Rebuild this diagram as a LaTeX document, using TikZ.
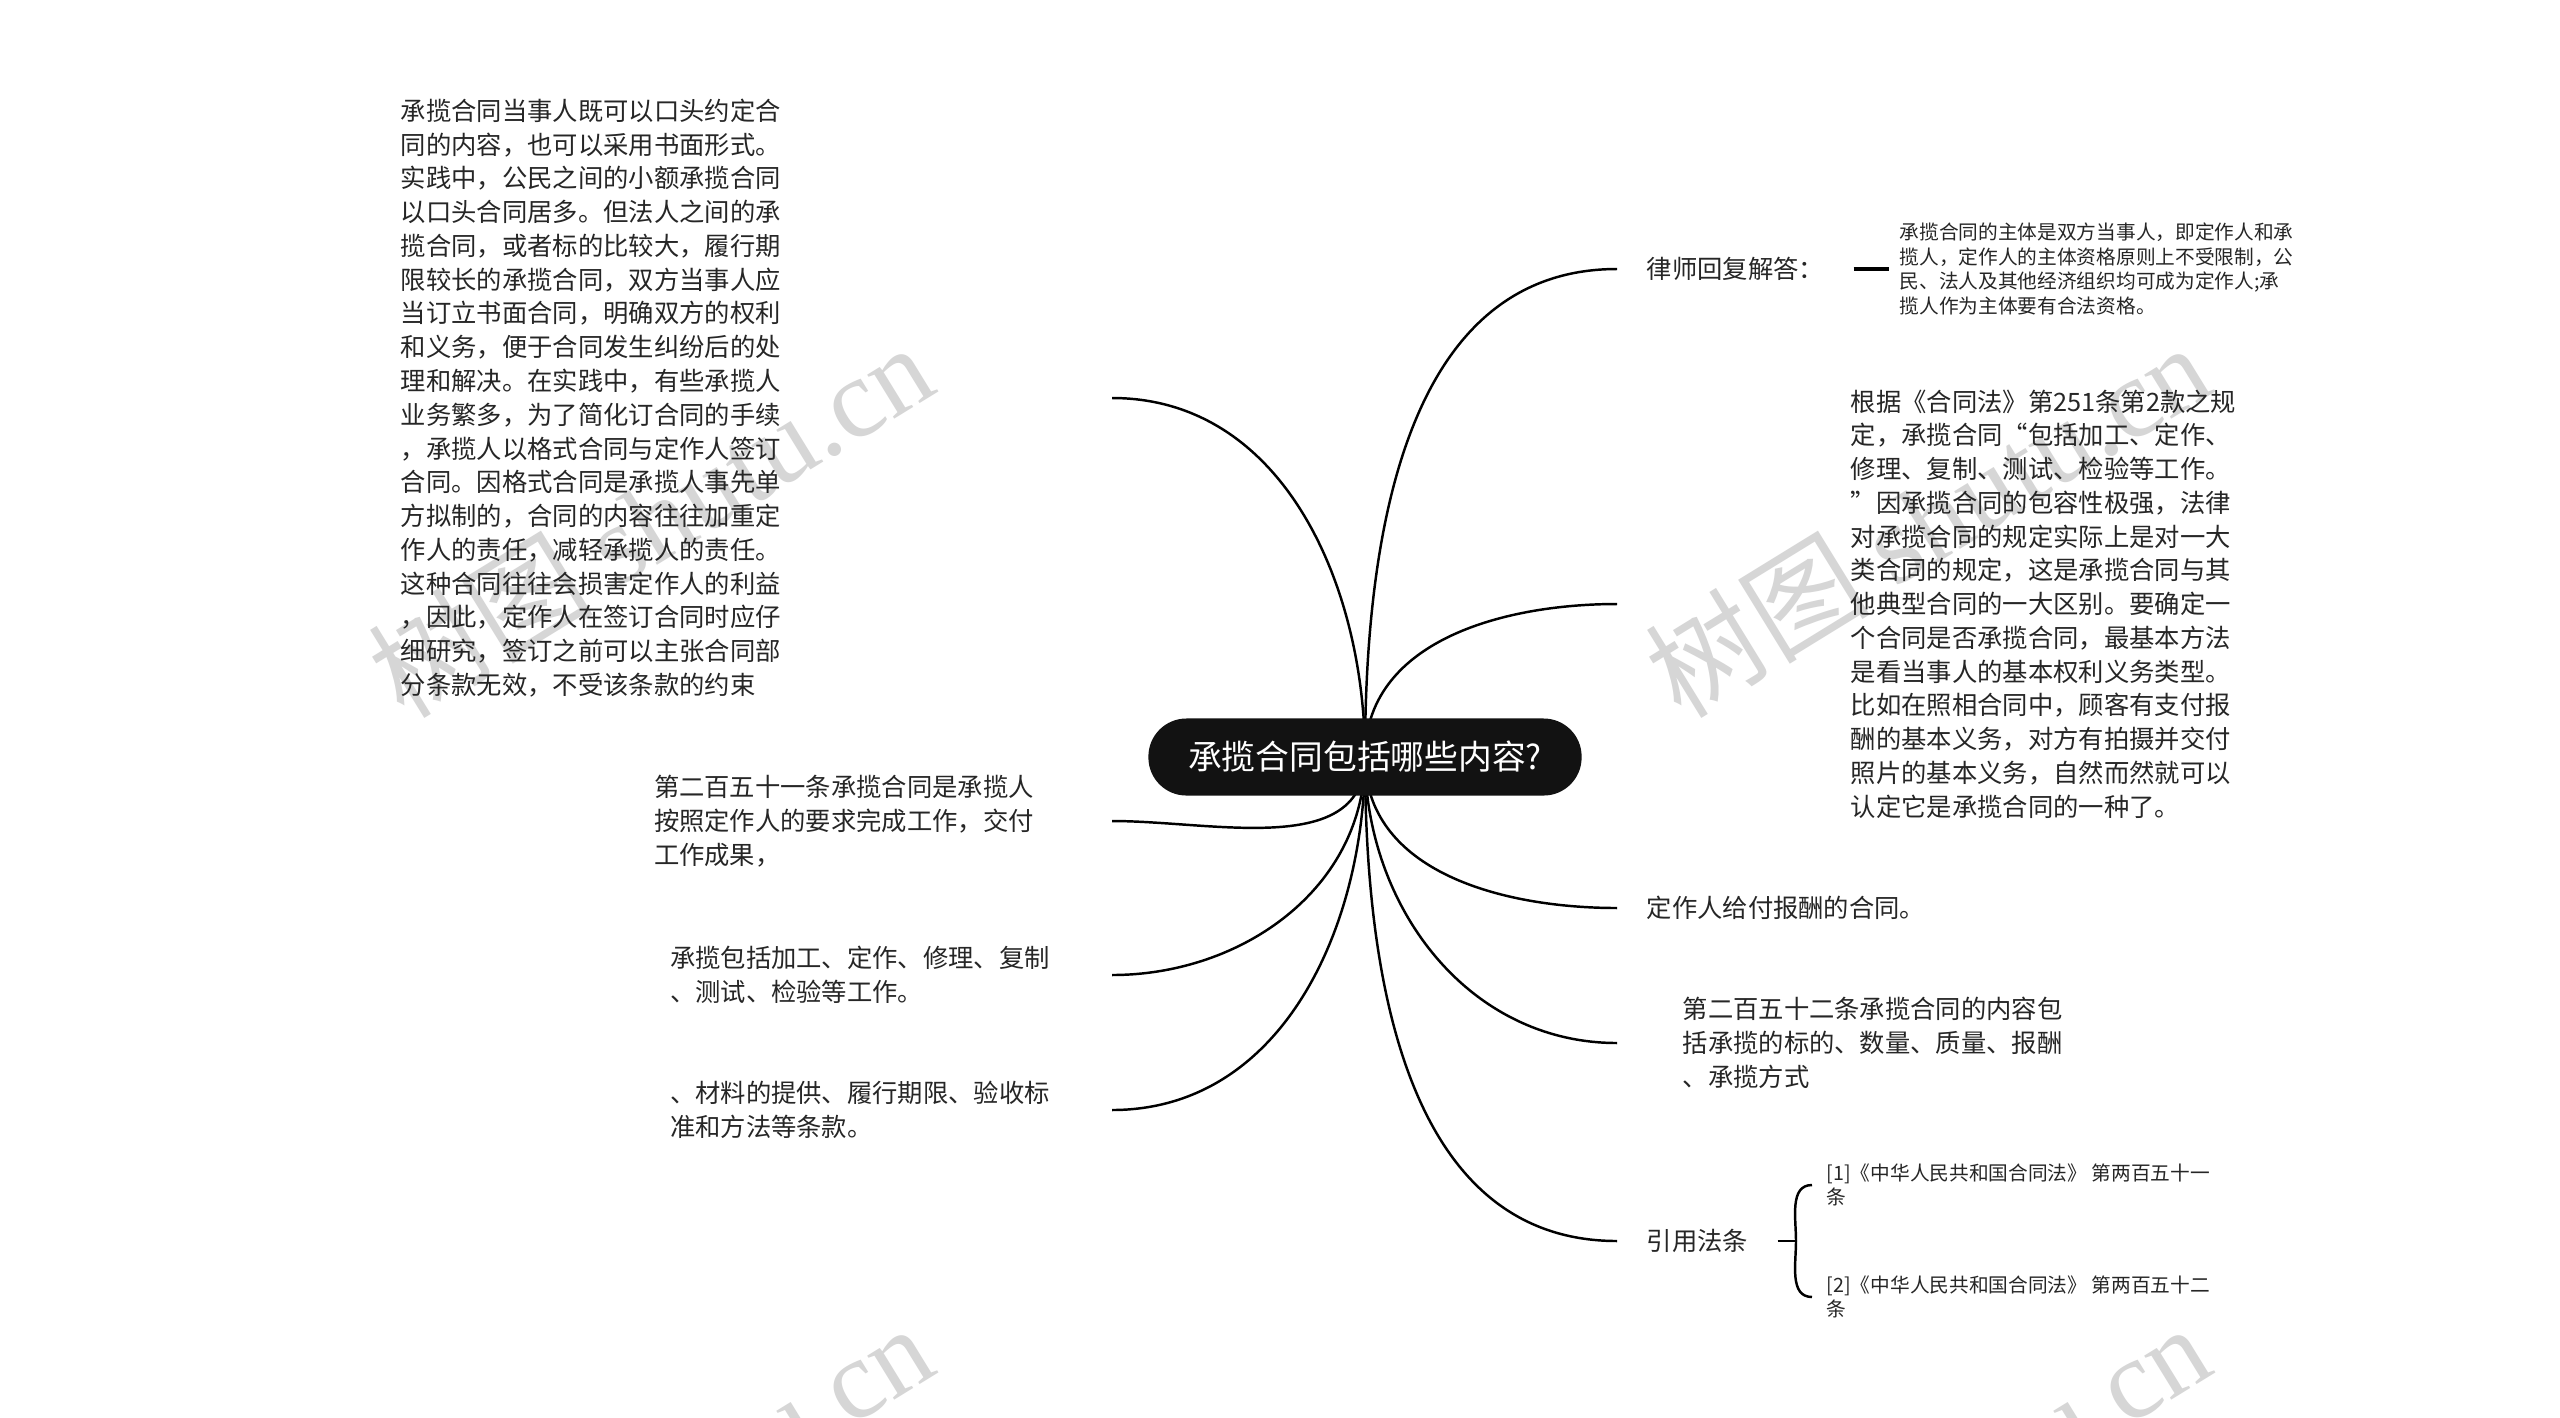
\documentclass[tikz,border=0pt]{standalone}
\usepackage{fontspec}
\setmainfont{Noto Sans CJK SC}
\newfontfamily\wmlatin{Liberation Serif}
\usetikzlibrary{backgrounds}

\begin{document}
\begin{tikzpicture}[x=0.01cm, y=-0.01cm,
	every node/.style={font=\fontsize{7.2pt}{9.6pt}\selectfont, text=black!85},
	branch/.style={line width=0.7pt, black},
	rootbox/.style={fill=black!93, text=white, rounded corners=0.38cm, minimum width=4.33cm, minimum height=0.77cm, inner sep=0pt, font=\fontsize{9.6pt}{11pt}\selectfont},
	lnode/.style={anchor=east, align=left, inner xsep=0pt, text width=#1},
	rnode/.style={anchor=west, align=left, inner xsep=#1},
	small/.style={font=\fontsize{5.6pt}{7pt}\selectfont},
	wmark/.style={text=black!16, font=\fontsize{32pt}{32pt}\selectfont, rotate=31.6}]
	\useasboundingbox (0,0) rectangle (2560,1417);
	\node[rootbox] (root) at (1365,757) {承揽合同包括哪些内容?};
	\node[lnode=7.1cm] (contract) at (1112,398) {承揽合同当事人既可以口头约定合\\同的内容，也可以采用书面形式。\\实践中，公民之间的小额承揽合同\\以口头合同居多。但法人之间的承\\揽合同，或者标的比较大，履行期\\限较长的承揽合同，双方当事人应\\当订立书面合同，明确双方的权利\\和义务，便于合同发生纠纷后的处\\理和解决。在实践中，有些承揽人\\业务繁多，为了简化订合同的手续\\，承揽人以格式合同与定作人签订\\合同。因格式合同是承揽人事先单\\方拟制的，合同的内容往往加重定\\作人的责任，减轻承揽人的责任。\\这种合同往往会损害定作人的利益\\，因此，定作人在签订合同时应仔\\细研究，签订之前可以主张合同部\\分条款无效，不受该条款的约束};
	\node[lnode=4.57cm] (art251) at (1112,821) {第二百五十一条承揽合同是承揽人\\按照定作人的要求完成工作，交付\\工作成果，};
	\node[lnode=4.41cm] (scope) at (1112,975) {承揽包括加工、定作、修理、复制\\、测试、检验等工作。};
	\node[lnode=4.41cm] (terms) at (1112,1110) {、材料的提供、履行期限、验收标\\准和方法等条款。};
	\node[rnode=.29cm] (lawyer) at (1617,269) {律师回复解答：};
	\node[rnode=.1cm, small] (subject) at (1889,269) {承揽合同的主体是双方当事人，即定作人和承\\揽人，定作人的主体资格原则上不受限制，公\\民、法人及其他经济组织均可成为定作人;承\\揽人作为主体要有合法资格。};
	\node[rnode=2.33cm] (basis) at (1617,604) {根据《合同法》第251条第2款之规\\定，承揽合同“包括加工、定作、\\修理、复制、测试、检验等工作。\\”因承揽合同的包容性极强，法律\\对承揽合同的规定实际上是对一大\\类合同的规定，这是承揽合同与其\\他典型合同的一大区别。要确定一\\个合同是否承揽合同，最基本方法\\是看当事人的基本权利义务类型。\\比如在照相合同中，顾客有支付报\\酬的基本义务，对方有拍摄并交付\\照片的基本义务，自然而然就可以\\认定它是承揽合同的一种了。};
	\node[rnode=.29cm] (payment) at (1617,908) {定作人给付报酬的合同。};
	\node[rnode=.65cm] (art252) at (1617,1043) {第二百五十二条承揽合同的内容包\\括承揽的标的、数量、质量、报酬\\、承揽方式};
	\node[rnode=.29cm] (cite) at (1617,1241) {引用法条};
	\coordinate (brace) at (1796,1241);
	\node[rnode=.14cm, small] (cite1) at (1812,1185) {[1]《中华人民共和国合同法》 第两百五十一\\条};
	\node[rnode=.14cm, small] (cite2) at (1812,1297) {[2]《中华人民共和国合同法》 第两百五十二\\条};
	\begin{scope}[on background layer]
		\fill[white] (0,0) rectangle (2560,1417);
		\foreach \wx/\wy [count=\i] in {650/519, 1927/519, 650/1500, 1927/1500}
			\node[wmark] (wm\i) at (\wx,\wy) {树图 {\wmlatin shutu.cn}};
		\foreach \n/\o in {contract/90, art251/-90, scope/-90, terms/-90}
			\draw[branch] (root.center) to[out=\o, in=0] (\n.east);
		\foreach \n/\o in {lawyer/90, basis/90, payment/-90, art252/-90, cite/-90}
			\draw[branch] (root.center) to[out=\o, in=180] (\n.west);
		\draw[branch, line width=0.9pt] (lawyer.east) -- (subject.west);
		\draw[branch] (cite.east) -- (brace);
		\draw[branch] (cite1.west) to[out=180, in=90] (brace) to[out=-90, in=180] (cite2.west);
	\end{scope}
\end{tikzpicture}
\end{document}
